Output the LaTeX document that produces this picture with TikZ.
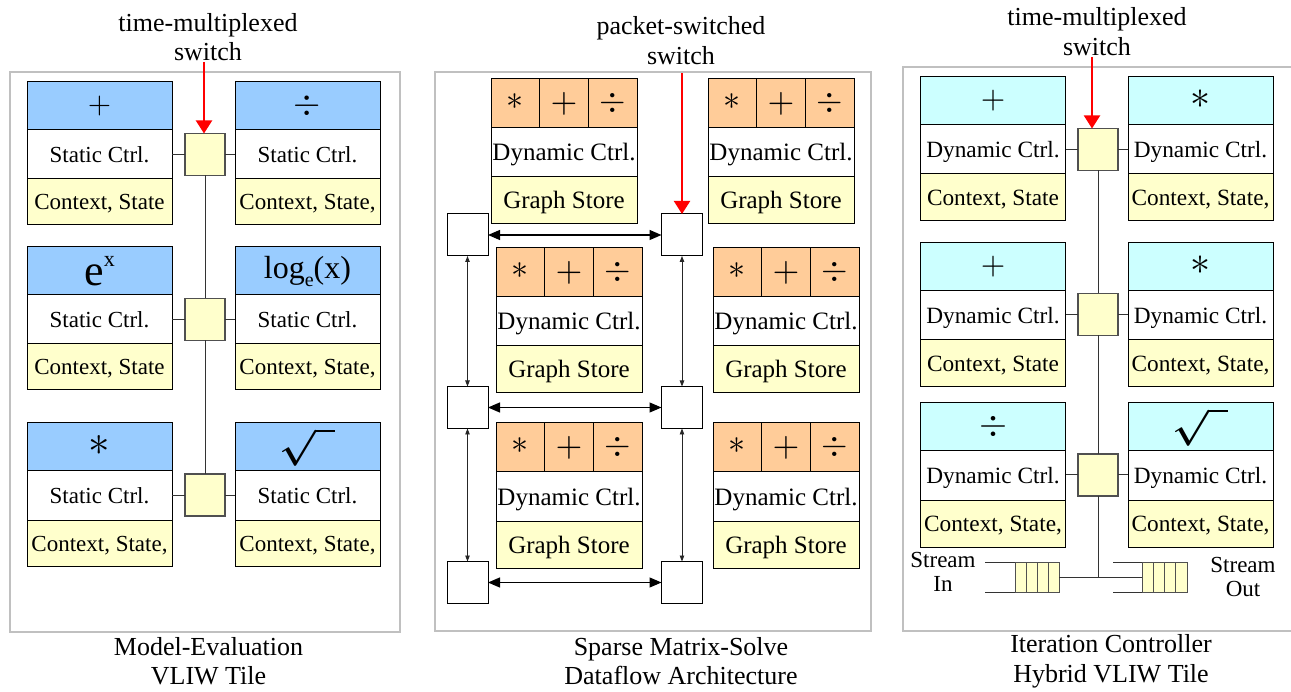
\documentclass[tikz,border=0pt]{standalone}
\usepackage{fontspec}
\setmainfont{Liberation Serif}
\usepackage{graphicx}
\usetikzlibrary{arrows.meta}

\definecolor{hdrblue}{HTML}{99CCFF}
\definecolor{hdrorange}{HTML}{FFCC99}
\definecolor{hdrcyan}{HTML}{CCFFFF}
\definecolor{storeyellow}{HTML}{FFFFCC}
\definecolor{framegray}{HTML}{C0C0C0}
\definecolor{boxedge}{HTML}{505050}

\newcommand{\setpx}[1]{\fontsize{#1}{#1}\selectfont}
% operator glyphs
\newcommand{\opplus}[1][3]{\scalebox{#1}{$+$}}
\newcommand{\opdiv}[1][3.5]{\scalebox{#1}{$\div$}}
\newcommand{\opast}[1][4.3]{\raisebox{3pt}{\scalebox{#1}{$\ast$}}}
\newcommand{\opsqrt}{\scalebox{3.8}[3.6]{\boldmath$\sqrt{\kern5pt}$}}

\tikzset{
  cell/.style={draw=black, line width=1pt, rectangle, inner sep=0pt, outer sep=0pt},
  Lhdr/.style={cell, fill=hdrblue, minimum width=145pt, minimum height=48pt},
  Lctl/.style={cell, fill=white, minimum width=145pt, minimum height=49pt,
    font=\setpx{23}, text height=16pt, text depth=0pt},
  Lctx/.style={cell, fill=storeyellow, minimum width=145pt, minimum height=46pt,
    font=\setpx{23}, text height=16pt, text depth=0pt},
  Rhdr/.style={cell, fill=hdrcyan, minimum width=145pt, minimum height=48pt},
  Rctl/.style={cell, fill=white, minimum width=145pt, minimum height=49pt,
    font=\setpx{23.3}, text height=16pt, text depth=0pt},
  Rctx/.style={cell, fill=storeyellow, minimum width=145pt, minimum height=47pt,
    font=\setpx{23.3}, text height=16pt, text depth=0pt},
  Mop/.style={cell, fill=hdrorange, minimum width=48.67pt, minimum height=49pt},
  Mctl/.style={cell, fill=white, minimum width=146pt, minimum height=49pt,
    font=\setpx{25}, text height=17pt, text depth=0pt},
  Msto/.style={cell, fill=storeyellow, minimum width=146pt, minimum height=47pt,
    font=\setpx{25}, text height=17pt, text depth=0pt},
  xbar/.style={draw=boxedge, line width=1.2pt, fill=storeyellow, rectangle,
    minimum width=40pt, minimum height=42pt, inner sep=0pt, outer sep=0pt},
  router/.style={draw=black, line width=1pt, fill=white, rectangle,
    minimum width=41pt, minimum height=42pt, inner sep=0pt, outer sep=0pt},
  fifo/.style={draw=boxedge, line width=1pt, fill=storeyellow, rectangle,
    minimum width=44pt, minimum height=30pt, inner sep=0pt, outer sep=0pt,
    path picture={\foreach \k in {1,2,3}
      \draw[boxedge, line width=1pt]
        ([xshift=\k*11pt]path picture bounding box.south west) --
        ([xshift=\k*11pt]path picture bounding box.north west);}},
  frame/.style={draw=framegray, line width=2pt},
  wire/.style={draw=black!80, line width=1pt},
  feed/.style={draw=red, line width=2pt, -{Triangle[length=13pt,width=16pt]}},
  hlink/.style={draw=black, line width=1.3pt,
    {Triangle[length=12pt,width=10pt]}-{Triangle[length=12pt,width=10pt]}},
  vlink/.style={draw=black!85, line width=0.9pt,
    {Triangle[length=6pt,width=4.5pt]}-{Triangle[length=6pt,width=4.5pt]}},
  heading/.style={align=center, inner sep=0pt, font=\fontsize{26}{29.5}\selectfont},
  streamlbl/.style={align=center, inner sep=0pt, font=\fontsize{23}{24.7}\selectfont},
}

% one VLIW functional unit: operator header, controller row, store row
\newcommand{\vliwtile}[7]{%
  \node[#2hdr, anchor=north west] (#1h) at (#3,#4) {#5};
  \node[#2ctl, anchor=north] (#1c) at (#1h.south) {#6};
  \node[#2ctx, anchor=north] (#1s) at (#1c.south) {#7};
}
% one dataflow processing element with three operators
\newcommand{\flowtile}[3]{%
  \node[Mop, anchor=north west] (#1a) at (#2,#3) {\opast[3.4]};
  \node[Mop, anchor=west] (#1b) at (#1a.east) {\opplus[3.45]};
  \node[Mop, anchor=west] (#1d) at (#1b.east) {\opdiv[3.4]};
  \node[Mctl, anchor=north west] (#1c) at (#1a.south west) {Dynamic Ctrl.};
  \node[Msto, anchor=north] (#1s) at (#1c.south) {Graph Store};
}

\begin{document}
\begin{tikzpicture}[x=1pt, y=-1pt]
\useasboundingbox (0,0) rectangle (1291,692);

% ---------------- Model-Evaluation VLIW tile ----------------
\draw[frame] (10,72) rectangle (400,632);
\node[heading] (lhead) at (208,37.3) {time-multiplexed\\switch};
\node[heading] (lcap) at (208.5,661) {Model-Evaluation\\VLIW Tile};

\vliwtile{la}{L}{27}{82}{\opplus}{Static Ctrl.}{Context, State}
\vliwtile{lb}{L}{235}{82}{\opdiv}{Static Ctrl.}{Context, State,}
\vliwtile{lc}{L}{27}{247}{\setpx{44}e\raisebox{19pt}{\setpx{22}x}}{Static Ctrl.}{Context, State}
\vliwtile{ld}{L}{235}{247}{\setpx{32}log\raisebox{-8pt}{\setpx{20}e}(x)}{Static Ctrl.}{Context, State,}
\vliwtile{le}{L}{27}{423}{\opast}{Static Ctrl.}{Context, State,}
\vliwtile{lf}{L}{235}{423}{\opsqrt}{Static Ctrl.}{Context, State,}

\node[xbar] (ls1) at (205,154.5) {};
\node[xbar] (ls2) at (205,319.5) {};
\node[xbar] (ls3) at (205,495) {};

\foreach \s/\a/\b in {ls1/la/lb, ls2/lc/ld, ls3/le/lf}{
  \draw[wire] (\s.west) -- (\s.west -| \a c.east);
  \draw[wire] (\s.east) -- (\s.east -| \b c.west);
}
\draw[wire] (ls1.south) -- (ls2.north);
\draw[wire] (ls2.south) -- (ls3.north);

\coordinate (lfeed) at (204,62);
\draw[feed] (lfeed) -- (lfeed |- ls1.north);

% ---------------- Sparse Matrix-Solve dataflow architecture ----------------
\draw[frame] (434.5,72.5) rectangle (871,631);
\node[heading] (mhead) at (681,40.8) {packet-switched\\switch};
\node[heading] (mcap) at (681,661) {Sparse Matrix-Solve\\Dataflow Architecture};

\flowtile{ma}{491}{79}
\flowtile{mb}{708}{79}
\flowtile{mc}{496}{248}
\flowtile{md}{713}{248}
\flowtile{me}{496}{423}
\flowtile{mf}{713}{423}

\node[router] (r11) at (467.5,235) {};
\node[router] (r12) at (682,235) {};
\node[router] (r21) at (467.5,407.5) {};
\node[router] (r22) at (682,407.5) {};
\node[router] (r31) at (467.5,582.5) {};
\node[router] (r32) at (682,582.5) {};

\draw[hlink] (r11.east) -- (r12.west);
\draw[hlink] (r21.east) -- (r22.west);
\draw[hlink] (r31.east) -- (r32.west);
\draw[vlink] (r11.south) -- (r21.north);
\draw[vlink] (r21.south) -- (r31.north);
\draw[vlink] (r12.south) -- (r22.north);
\draw[vlink] (r22.south) -- (r32.north);

\coordinate (mfeed) at (682,73.5);
\draw[feed] (mfeed) -- (r12.north);

% ---------------- Iteration controller hybrid VLIW tile ----------------
\draw[frame] (903,67) rectangle (1300,631);
\node[heading] (rhead) at (1097,31.8) {time-multiplexed\\switch};
\node[heading] (rcap) at (1111,661.5) {Iteration Controller\\Hybrid VLIW Tile};

\vliwtile{ra}{R}{920.5}{77}{\opplus[3.15]}{Dynamic Ctrl.}{Context, State}
\vliwtile{rb}{R}{1128}{77}{\opast[4]}{Dynamic Ctrl.}{Context, State,}
\vliwtile{rc}{R}{920.5}{243}{\opplus[3.15]}{Dynamic Ctrl.}{Context, State}
\vliwtile{rd}{R}{1128}{243}{\opast[4]}{Dynamic Ctrl.}{Context, State,}
\vliwtile{re}{R}{920.5}{403}{\opdiv[3.6]}{Dynamic Ctrl.}{Context, State,}
\vliwtile{rf}{R}{1128}{403}{\opsqrt}{Dynamic Ctrl.}{Context, State,}

\node[xbar] (rs1) at (1098,149.5) {};
\node[xbar] (rs2) at (1098,314.5) {};
\node[xbar] (rs3) at (1098,475) {};

\foreach \s/\a/\b in {rs1/ra/rb, rs2/rc/rd, rs3/re/rf}{
  \draw[wire] (\s.west) -- (\s.west -| \a c.east);
  \draw[wire] (\s.east) -- (\s.east -| \b c.west);
}
\draw[wire] (rs1.south) -- (rs2.north);
\draw[wire] (rs2.south) -- (rs3.north);

\coordinate (rfeed) at (1092,57);
\draw[feed] (rfeed) -- (rfeed |- rs1.north);

% stream FIFOs
\node[fifo] (fin) at (1037,577) {};
\node[fifo, minimum width=45pt,
  path picture={\foreach \k in {1,2,3}
    \draw[boxedge, line width=1pt]
      ([xshift=\k*11.25pt]path picture bounding box.south west) --
      ([xshift=\k*11.25pt]path picture bounding box.north west);}] (fout) at (1164.5,577) {};
\coordinate (finT) at (985,562);
\coordinate (finB) at (985,592);
\coordinate (foutT) at (1113,562);
\coordinate (foutB) at (1113,592);
\draw[wire] (fin.north west) -- (finT);
\draw[wire] (fin.south west) -- (finB);
\draw[wire] (fout.north west) -- (foutT);
\draw[wire] (fout.south west) -- (foutB);
\draw[wire] (fin.east) -- (fout.west);
\draw[wire] (rs3.south) -- (rs3.south |- fin.east);

\node[streamlbl] (sin) at (943,572) {Stream\\In};
\node[streamlbl] (sout) at (1243,577) {Stream\\Out};
\end{tikzpicture}
\end{document}
